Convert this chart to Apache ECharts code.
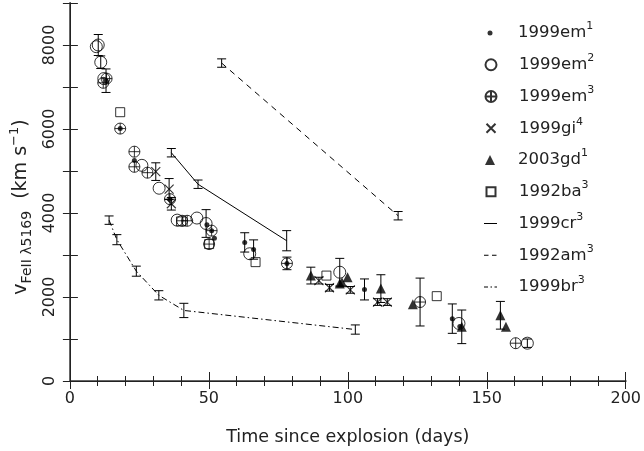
<!DOCTYPE html>
<html><head><meta charset="utf-8">
<script src="https://cdn.jsdelivr.net/npm/echarts@6/dist/echarts.min.js"></script>
<style>html,body{margin:0;padding:0;background:#fff}#c{width:644px;height:451px}</style>
</head><body><div id="c"></div><script>
// ---- data (days since explosion, FeII 5169 velocity km/s, error km/s; 0 = no bar)
const em1Days = [13.0, 18.1, 23.2, 36.0, 49.3, 51.0, 52.0, 62.9, 66.1, 78.1, 106.0, 137.6, 140.3];
const em1Vel  = [7150, 6010, 5250, 4330, 3720, 3580, 3400, 3300, 3130, 2800, 2180, 1485, 1300];
const em1Err  = [280, 0, 0, 0, 0, 0, 0, 230, 230, 0, 250, 350, 0];

const em2Days = [9.5, 10.2, 11.1, 12.2, 25.9, 32.1, 38.6, 45.7, 49.0, 64.7, 97.1, 140.0, 164.6];
const em2Vel  = [7960, 8000, 7590, 7200, 5135, 4590, 3830, 3880, 3750, 3030, 2590, 1370, 900];
const em2Err  = [0, 250, 150, 0, 0, 0, 0, 0, 330, 0, 330, 0, 100];

const em3Days = [12.0, 13.2, 18.1, 23.2, 23.2, 27.9, 36.0, 40.4, 42.2, 51.0, 50.1, 78.1, 126.0, 160.4];
const em3Vel  = [7100, 7200, 6010, 5460, 5100, 4960, 4330, 3815, 3815, 3580, 3260, 2800, 1880, 900];
const em3Err  = [0, 0, 0, 0, 0, 0, 0, 0, 0, 0, 0, 150, 570, 0];

const gi4Days = [30.9, 35.7, 36.5, 89.6, 93.4, 100.9, 110.7, 114.2];
const gi4Vel  = [4985, 4570, 4220, 2390, 2220, 2170, 1880, 1880];
const gi4Err  = [210, 250, 150, 80, 80, 80, 80, 80];

const gd1Days = [86.7, 97.1, 97.9, 99.9, 111.9, 123.4, 141.0, 154.9, 156.9];
const gd1Vel  = [2510, 2320, 2350, 2470, 2200, 1825, 1290, 1565, 1290];
const gd1Err  = [200, 0, 0, 0, 330, 0, 400, 330, 0];

const ba3Days = [18.1, 40.0, 50.1, 66.8, 92.3, 132.0];
const ba3Vel  = [6400, 3800, 3260, 2830, 2510, 2020];

const cr3Days = [36.5, 46.1, 78.0];
const cr3Vel  = [5435, 4685, 3340];
const cr3Err  = [100, 100, 240];

const am3Days = [54.6, 118.1];
const am3Vel  = [7570, 3935];
const am3Err  = [100, 100];

const br3Days = [14.1, 16.9, 23.9, 32.0, 41.0, 102.7];
const br3Vel  = [3830, 3365, 2615, 2040, 1680, 1225];
const br3Err  = [100, 120, 120, 110, 170, 110];

const legendBase = ['1999em', '1999em', '1999em', '1999gi', '2003gd', '1992ba', '1999cr', '1992am', '1999br'];
const legendRef  = ['1', '2', '3', '4', '1', '3', '3', '3', '3'];

const xTicks = [0, 50, 100, 150, 200];
const yTicks = [0, 2000, 4000, 6000, 8000];

// ---- helpers
const names = legendBase.map((b, i) => b + '^' + legendRef[i]);
const pairs = (d, v) => d.map((x, i) => [x, v[i]]);
const errData = (d, v, e) => d.map((x, i) => [x, v[i] - e[i], v[i] + e[i], e[i]]).filter(r => r[3] > 0);
const FONT = 'DejaVu Sans';
const INK = '#222';
const CLEAR = 'rgba(0,0,0,0)';

function renderErr(params, api) {
  const x = api.value(0);
  const p1 = api.coord([x, api.value(1)]);
  const p2 = api.coord([x, api.value(2)]);
  const h = 4.5;
  const st = { stroke: '#000', lineWidth: 1 };
  return { type: 'group', children: [
    { type: 'line', shape: { x1: p1[0], y1: p1[1], x2: p2[0], y2: p2[1] }, style: st },
    { type: 'line', shape: { x1: p1[0] - h, y1: p1[1], x2: p1[0] + h, y2: p1[1] }, style: st },
    { type: 'line', shape: { x1: p2[0] - h, y1: p2[1], x2: p2[0] + h, y2: p2[1] }, style: st }
  ]};
}
function errSeries(d, v, e) {
  return { type: 'custom', renderItem: renderErr, data: errData(d, v, e),
    encode: { x: 0, y: [1, 2] }, z: 1, silent: true };
}

const symCirclePlus = 'path://M0,-10A10,10 0 1,1 0,10A10,10 0 1,1 0,-10Z M-10,0L10,0 M0,-10L0,10';
const symCross = 'path://M-10,-10L10,10 M-10,10L10,-10';
const openStyle = { color: CLEAR, borderColor: '#000', borderWidth: 1 };

const lineDash = ['solid', [6, 5], [6, 3, 1.5, 3]];
const legendDash = ['solid', [4.5, 3.5], [4, 2.5, 1.5, 2.5]];

const series = [
  { name: names[0], type: 'scatter', data: pairs(em1Days, em1Vel), symbol: 'circle', symbolSize: 5,
    itemStyle: { color: '#000' }, z: 3 },
  { name: names[1], type: 'scatter', data: pairs(em2Days, em2Vel), symbol: 'circle', symbolSize: 12,
    itemStyle: openStyle, z: 3 },
  { name: names[2], type: 'scatter', data: pairs(em3Days, em3Vel), symbol: symCirclePlus, symbolSize: 11,
    itemStyle: openStyle, z: 3 },
  { name: names[3], type: 'scatter', data: pairs(gi4Days, gi4Vel), symbol: symCross, symbolSize: 9,
    itemStyle: { color: CLEAR, borderColor: '#000', borderWidth: 1.1 }, z: 3 },
  { name: names[4], type: 'scatter', data: pairs(gd1Days, gd1Vel), symbol: 'triangle', symbolSize: 10,
    itemStyle: { color: '#000' }, z: 3 },
  { name: names[5], type: 'scatter', data: pairs(ba3Days, ba3Vel), symbol: 'rect', symbolSize: 9,
    itemStyle: openStyle, z: 3 },
  { name: names[6], type: 'line', data: pairs(cr3Days, cr3Vel), symbol: 'none',
    itemStyle: { color: CLEAR, borderColor: CLEAR },
    lineStyle: { color: '#000', width: 1, type: lineDash[0] }, z: 2 },
  { name: names[7], type: 'line', data: pairs(am3Days, am3Vel), symbol: 'none',
    itemStyle: { color: CLEAR, borderColor: CLEAR },
    lineStyle: { color: '#000', width: 1, type: lineDash[1] }, z: 2 },
  { name: names[8], type: 'line', data: pairs(br3Days, br3Vel), symbol: 'none',
    itemStyle: { color: CLEAR, borderColor: CLEAR },
    lineStyle: { color: '#000', width: 1, type: lineDash[2] }, z: 2 },
  errSeries(em1Days, em1Vel, em1Err),
  errSeries(em2Days, em2Vel, em2Err),
  errSeries(em3Days, em3Vel, em3Err),
  errSeries(gi4Days, gi4Vel, gi4Err),
  errSeries(gd1Days, gd1Vel, gd1Err),
  errSeries(cr3Days, cr3Vel, cr3Err),
  errSeries(am3Days, am3Vel, am3Err),
  errSeries(br3Days, br3Vel, br3Err)
];

// legend: one component per entry for exact icon sizing
const iconSize = [[5, 5], [11, 11], [11, 11], [9, 9], [10, 10], [9, 9], [13, 8], [13, 8], [13, 8]];
const iconCx = 490, textX = 518, row0 = 33, rowGap = 31.75;
const legends = names.map((n, i) => {
  const w = iconSize[i][0], h = iconSize[i][1];
  const left = iconCx - w / 2;
  const pad = textX - (left + w + 5);
  const lg = {
    data: [n], left: left, top: row0 + i * rowGap - 12, orient: 'vertical',
    itemWidth: w, itemHeight: h, padding: 0, selectedMode: false,
    formatter: () => '{n|' + legendBase[i] + '}{s|' + legendRef[i] + '}',
    textStyle: { padding: [0, 0, 0, pad], rich: {
      n: { fontFamily: FONT, fontSize: 16.5, color: INK, lineHeight: 24, verticalAlign: 'middle' },
      s: { fontFamily: FONT, fontSize: 11, color: INK, lineHeight: 12, verticalAlign: 'top' } } }
  };
  if (i >= 6) {
    lg.itemStyle = { color: CLEAR, borderColor: CLEAR, opacity: 0 };
    lg.lineStyle = { color: '#000', width: 1, type: legendDash[i - 6] };
  }
  return lg;
});

const axisLineL = { show: true, lineStyle: { color: '#666', width: 2 } };
const axisLineT = { show: true, lineStyle: { color: '#222', width: 1 } };

const option = {
  animation: false,
  backgroundColor: '#fff',
  grid: { left: 66.5, right: 15, top: 2, bottom: 70 },
  legend: legends,
  xAxis: [
    { type: 'value', min: 0, max: 200, interval: 50, position: 'bottom',
      axisLine: axisLineL,
      axisTick: { show: true, inside: true, length: 9, lineStyle: { color: '#222' } },
      minorTick: { show: true, splitNumber: 5, length: 5, lineStyle: { color: '#222' } },
      splitLine: { show: false },
      axisLabel: { margin: 10, fontFamily: FONT, fontSize: 16, color: INK,
        formatter: v => xTicks.indexOf(v) >= 0 ? String(v) : '' },
      name: 'Time since explosion (days)', nameLocation: 'middle', nameGap: 47,
      nameTextStyle: { fontFamily: FONT, fontSize: 17.5, color: INK } },
    { type: 'value', min: 0, max: 200, interval: 50, position: 'top',
      axisLine: axisLineT,
      axisTick: { show: true, inside: true, length: 8, lineStyle: { color: '#222' } },
      minorTick: { show: true, splitNumber: 5, length: 5, lineStyle: { color: '#222' } },
      splitLine: { show: false }, axisLabel: { show: false } }
  ],
  yAxis: [
    { type: 'value', min: 0, max: 9000, interval: 1000, position: 'left',
      axisLine: axisLineL,
      axisTick: { show: true, inside: true, length: 8, lineStyle: { color: '#222' } },
      splitLine: { show: false },
      axisLabel: { rotate: 90, margin: 12, fontFamily: FONT, fontSize: 16, color: INK,
        formatter: v => yTicks.indexOf(v) >= 0 ? String(v) : '' },
      name: '{n|v}{b|FeII λ5169}{n|  (km s}{p|−1}{n|)}', nameLocation: 'middle', nameRotate: 90, nameGap: 33,
      nameTextStyle: { padding: [0, 30, 0, 0], rich: {
        n: { fontFamily: FONT, fontSize: 19, color: INK, lineHeight: 26, verticalAlign: 'middle' },
        b: { fontFamily: FONT, fontSize: 14, color: INK, lineHeight: 13, verticalAlign: 'bottom' },
        p: { fontFamily: FONT, fontSize: 13, color: INK, lineHeight: 13, verticalAlign: 'top' } } } },
    { type: 'value', min: 0, max: 9000, interval: 1000, position: 'right',
      axisLine: axisLineT,
      axisTick: { show: true, inside: true, length: 7, lineStyle: { color: '#222' } },
      splitLine: { show: false }, axisLabel: { show: false } }
  ],
  series: series
};

const chart = echarts.init(document.getElementById('c'), null, { renderer: 'canvas' });
chart.setOption(option);
</script></body></html>
